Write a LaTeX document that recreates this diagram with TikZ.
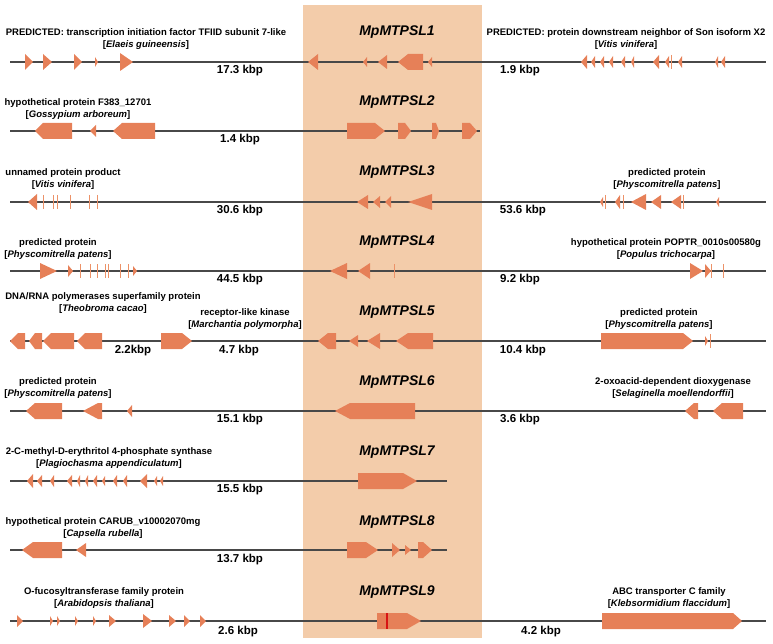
\documentclass[tikz,border=0pt]{standalone}
\usepackage{fontspec}
\setmainfont{Liberation Sans}
\usetikzlibrary{positioning}

\definecolor{bandcol}{RGB}{243,204,170}
\definecolor{genecol}{RGB}{230,128,88}
\definecolor{tickcol}{RGB}{236,146,104}
\definecolor{trackcol}{RGB}{72,72,72}
\definecolor{markcol}{RGB}{215,20,20}

% gene arrows: {y}{x1}{x2}{head}{half height}
\newcommand{\fgene}[5]{\fill[gene] ({#2},{#1-#5}) -- ({#3-#4},{#1-#5}) -- ({#3},{#1}) -- ({#3-#4},{#1+#5}) -- ({#2},{#1+#5}) -- cycle;}
\newcommand{\rgene}[5]{\fill[gene] ({#3},{#1-#5}) -- ({#2+#4},{#1-#5}) -- ({#2},{#1}) -- ({#2+#4},{#1+#5}) -- ({#3},{#1+#5}) -- cycle;}
% plain triangles: {y}{x1}{x2}{half height}
\newcommand{\ftri}[4]{\fill[gene] ({#2},{#1-#4}) -- ({#3},{#1}) -- ({#2},{#1+#4}) -- cycle;}
\newcommand{\rtri}[4]{\fill[gene] ({#3},{#1-#4}) -- ({#2},{#1}) -- ({#3},{#1+#4}) -- cycle;}
% very short genes
\newcommand{\gtick}[2]{\draw[tick] ({#2},{#1-7}) -- ({#2},{#1+7});}
\newcommand{\species}[2]{#1\\{[}\textit{#2}{]}}

\tikzset{
  track/.style={draw=trackcol, line width=1.4pt},
  gene/.style={fill=genecol},
  tick/.style={draw=tickcol, line width=1pt},
  genelbl/.style={font=\fontsize{9.5}{12}\selectfont\bfseries, align=center, inner sep=0pt},
  kbp/.style={font=\fontsize{11.5}{13}\selectfont\bfseries, inner sep=0pt},
  locus/.style={font=\fontsize{14}{15}\selectfont\bfseries\itshape, inner sep=0pt}
}

\begin{document}
\begin{tikzpicture}[x=1pt, y=-1pt]
\useasboundingbox (0,0) rectangle (773,644);

% --- Marchantia locus band ---
\fill[bandcol] (303,5) rectangle (482,638);

% --- tracks ---
\foreach \y in {62,202,271,341,411,621} {\draw[track] (10,\y) -- (766,\y);}
\draw[track] (10,131) -- (480,131);
\draw[track] (10,481) -- (447,481);
\draw[track] (10,550) -- (447,550);

% --- locus names ---
\foreach \i/\y in {1/32,2/102,3/172,4/242,5/312,6/382,7/452,8/522,9/592}
  {\node[locus] (loc\i) at (397,\y) {MpMTPSL\i};}

% ===== row 1 =====
\ftri{62}{25}{33}{8} \ftri{62}{43}{52}{8} \ftri{62}{74}{82}{8}
\ftri{62}{95}{98}{5} \ftri{62}{120}{133}{9}
\rtri{62}{308}{318}{8} \rtri{62}{363}{367}{5} \rtri{62}{378}{387}{7}
\rgene{62}{398}{423}{10}{8} \rtri{62}{428}{432}{5}
\foreach \a/\b/\h in {581/587/7,591/595/6,600/604/6,609/613/6,621/625/6,631/634/6,653/659/7,665/669/6,678/682/6,715/718/6,721/725/6}
  {\rtri{62}{\a}{\b}{\h}}
\gtick{62}{671}
\node[genelbl] (g1L) at (146,39) {\species{PREDICTED: transcription initiation factor TFIID subunit 7-like}{Elaeis guineensis}};
\node[genelbl] (g1R) at (626,39) {\species{PREDICTED: protein downstream neighbor of Son isoform X2}{Vitis vinifera}};
\node[kbp] (k1L) at (240,71) {17.3 kbp};
\node[kbp] (k1R) at (520,71) {1.9 kbp};

% ===== row 2 =====
\rgene{131}{35}{72}{8}{8} \rtri{131}{90}{96}{6} \rgene{131}{113}{155}{9}{8}
\fgene{131}{347}{385}{10}{8} \fgene{131}{398}{411}{6}{8}
\fgene{131}{432}{439}{3}{8} \fgene{131}{462}{477}{7}{8}
\node[genelbl] (g2L) at (78,109) {\species{hypothetical protein F383\_12701}{Gossypium arboreum}};
\node[kbp] (k2L) at (240,140) {1.4 kbp};

% ===== row 3 =====
\rtri{202}{28}{37}{8}
\foreach \x in {43,53,57,70,89,97} {\gtick{202}{\x}}
\rtri{202}{357}{368}{7} \rtri{202}{373}{380}{6} \rtri{202}{385}{391}{6} \rtri{202}{408}{432}{8}
\rtri{202}{600}{603}{5} \rtri{202}{615}{620}{7} \rtri{202}{631}{646}{8}
\rtri{202}{651}{661}{7} \rtri{202}{671}{681}{7} \rtri{202}{716}{719}{5}
\foreach \x in {605,623,683} {\gtick{202}{\x}}
\node[genelbl] (g3L) at (63,179) {\species{unnamed protein product}{Vitis vinifera}};
\node[genelbl] (g3R) at (667,179) {\species{predicted protein}{Physcomitrella patens}};
\node[kbp] (k3L) at (240,211) {30.6 kbp};
\node[kbp] (k3R) at (523,211) {53.6 kbp};

% ===== row 4 =====
\ftri{271}{40}{57}{8} \ftri{271}{68}{73}{6} \ftri{271}{133}{137}{5}
\foreach \x in {80,90,97,105,108,120,128} {\gtick{271}{\x}}
\rtri{271}{330}{347}{8} \rtri{271}{358}{370}{8} \gtick{271}{394}
\ftri{271}{690}{703}{8} \ftri{271}{705}{711}{7}
\gtick{271}{711} \gtick{271}{723}
\node[genelbl] (g4L) at (58,249) {\species{predicted protein}{Physcomitrella patens}};
\node[genelbl] (g4R) at (666,249) {\species{hypothetical protein POPTR\_0010s00580g}{Populus trichocarpa}};
\node[kbp] (k4L) at (240,280) {44.5 kbp};
\node[kbp] (k4R) at (520,280) {9.2 kbp};

% ===== row 5 =====
\rgene{341}{10}{25}{8}{8} \rgene{341}{29}{42}{6}{8} \rgene{341}{43}{74}{8}{8}
\rgene{341}{77}{102}{8}{8} \fgene{341}{161}{192}{10}{8}
\rgene{341}{318}{336}{10}{8} \rtri{341}{349}{358}{6} \rtri{341}{367}{380}{8}
\rgene{341}{396}{433}{12}{8}
\fgene{341}{601}{693}{10}{8} \ftri{341}{705}{708}{5} \gtick{341}{710}
\node[genelbl] (g5L) at (103,303) {\species{DNA/RNA polymerases superfamily protein}{Theobroma cacao}};
\node[genelbl] (g5M) at (245,319) {\species{receptor-like kinase}{Marchantia polymorpha}};
\node[genelbl] (g5R) at (659,319) {\species{predicted protein}{Physcomitrella patens}};
\node[kbp] (k5A) at (133,351) {2.2kbp};
\node[kbp] (k5L) at (239,351) {4.7 kbp};
\node[kbp] (k5R) at (523,351) {10.4 kbp};

% ===== row 6 =====
\rgene{411}{26}{62}{9}{8} \rgene{411}{83}{102}{15}{8} \rtri{411}{127}{132}{6}
\rgene{411}{335}{415}{15}{8}
\rgene{411}{685}{698}{9}{8} \rgene{411}{713}{743}{9}{8}
\node[genelbl] (g6L) at (58,388) {\species{predicted protein}{Physcomitrella patens}};
\node[genelbl] (g6R) at (673,388) {\species{2-oxoacid-dependent dioxygenase}{Selaginella moellendorffii}};
\node[kbp] (k6L) at (240,420) {15.1 kbp};
\node[kbp] (k6R) at (520,420) {3.6 kbp};

% ===== row 7 =====
\foreach \a/\b/\h in {27/33/7,37/42/6,50/54/6,67/72/6,77/80/6,85/88/6,93/97/6,102/105/5,113/117/6,123/127/6,140/147/7,154/157/5,160/163/5}
  {\rtri{481}{\a}{\b}{\h}}
\fgene{481}{358}{417}{14}{8}
\node[genelbl] (g7L) at (109,458) {\species{2-C-methyl-D-erythritol 4-phosphate synthase}{Plagiochasma appendiculatum}};
\node[kbp] (k7L) at (240,490) {15.5 kbp};

% ===== row 8 =====
\rgene{550}{22}{62}{11}{8} \rtri{550}{76}{86}{7}
\fgene{550}{347}{378}{12}{8} \ftri{550}{392}{400}{7} \ftri{550}{405}{411}{5}
\fgene{550}{418}{432}{9}{8}
\node[genelbl] (g8L) at (103,528) {\species{hypothetical protein CARUB\_v10002070mg}{Capsella rubella}};
\node[kbp] (k8L) at (240,560) {13.7 kbp};

% ===== row 9 =====
\foreach \a/\b/\h in {17/23/6,50/53/5,57/60/5,75/78/5,93/96/5,109/116/6,143/152/7,169/176/6,184/190/6,200/206/6}
  {\ftri{621}{\a}{\b}{\h}}
\fgene{621}{377}{421}{14}{8}
\draw[markcol, line width=2pt] (387,613) -- (387,629);
\fgene{621}{602}{742}{9}{8}
\node[genelbl] (g9L) at (104,598) {\species{O-fucosyltransferase family protein}{Arabidopsis thaliana}};
\node[genelbl] (g9R) at (669,598) {\species{ABC transporter C family}{Klebsormidium flaccidum}};
\node[kbp] (k9L) at (238,632) {2.6 kbp};
\node[kbp] (k9R) at (541,632) {4.2 kbp};

\end{tikzpicture}
\end{document}
